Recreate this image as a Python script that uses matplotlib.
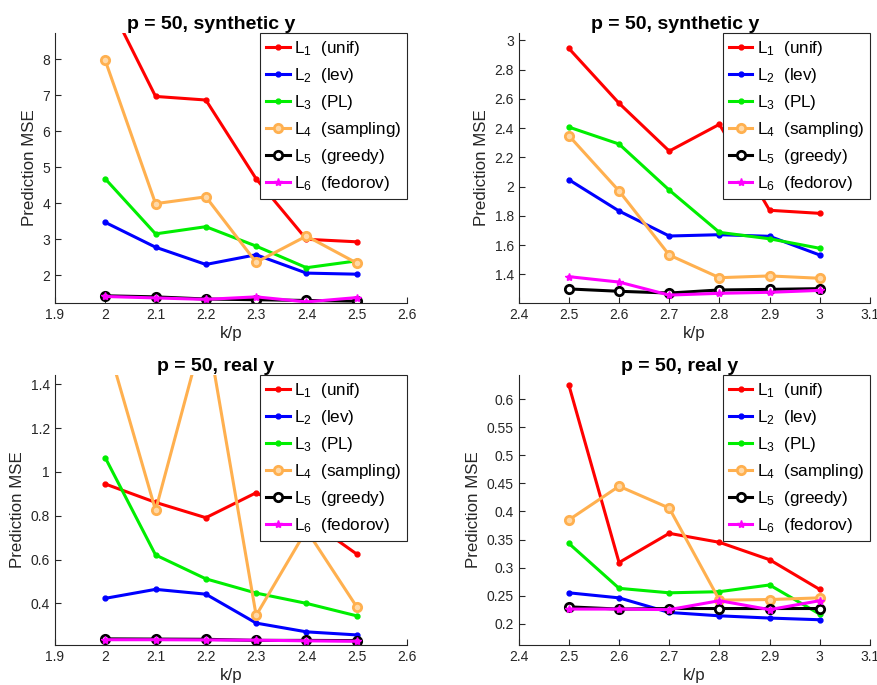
import matplotlib
matplotlib.use("Agg")
import matplotlib.pyplot as plt
import numpy as np

plt.rcParams['font.family'] = ['Liberation Sans', 'DejaVu Sans']
plt.rcParams['mathtext.fontset'] = 'custom'
plt.rcParams['mathtext.rm'] = 'Liberation Sans'
plt.rcParams['mathtext.it'] = 'Liberation Sans'

# ---- data ----
x_low = [2.0, 2.1, 2.2, 2.3, 2.4, 2.5]
x_high = [2.5, 2.6, 2.7, 2.8, 2.9, 3.0]

labels = [r'L$_1$  (unif)', r'L$_2$  (lev)', r'L$_3$  (PL)',
          r'L$_4$  (sampling)', r'L$_5$  (greedy)', r'L$_6$  (fedorov)']

# top-left: p=50 synthetic y, k/p 2..2.5
syn_low_unif = [9.76, 6.97, 6.87, 4.68, 3.00, 2.93]
syn_low_lev = [3.47, 2.78, 2.30, 2.57, 2.06, 2.03]
syn_low_pl = [4.68, 3.15, 3.35, 2.81, 2.21, 2.40]
syn_low_samp = [7.97, 3.99, 4.18, 2.36, 3.09, 2.34]
syn_low_greedy = [1.43, 1.40, 1.34, 1.32, 1.30, 1.28]
syn_low_fed = [1.41, 1.37, 1.33, 1.40, 1.26, 1.38]

# top-right: p=50 synthetic y, k/p 2.5..3
syn_high_unif = [2.945, 2.570, 2.243, 2.426, 1.838, 1.817]
syn_high_lev = [2.047, 1.833, 1.662, 1.671, 1.660, 1.532]
syn_high_pl = [2.407, 2.291, 1.976, 1.687, 1.643, 1.578]
syn_high_samp = [2.348, 1.970, 1.532, 1.377, 1.389, 1.373]
syn_high_greedy = [1.300, 1.284, 1.272, 1.293, 1.297, 1.302]
syn_high_fed = [1.384, 1.347, 1.258, 1.270, 1.277, 1.290]

# bottom-left: p=50 real y, k/p 2..2.5
real_low_unif = [0.945, 0.861, 0.791, 0.905, 0.788, 0.625]
real_low_lev = [0.423, 0.464, 0.442, 0.310, 0.270, 0.256]
real_low_pl = [1.065, 0.621, 0.512, 0.447, 0.400, 0.343]
real_low_samp = [1.62, 0.825, 1.68, 0.345, 0.735, 0.384]
real_low_greedy = [0.238, 0.237, 0.236, 0.231, 0.231, 0.230]
real_low_fed = [0.234, 0.234, 0.233, 0.232, 0.229, 0.227]

# bottom-right: p=50 real y, k/p 2.5..3
real_high_unif = [0.625, 0.309, 0.361, 0.345, 0.314, 0.261]
real_high_lev = [0.255, 0.246, 0.220, 0.214, 0.210, 0.207]
real_high_pl = [0.343, 0.263, 0.255, 0.257, 0.269, 0.217]
real_high_samp = [0.385, 0.445, 0.406, 0.242, 0.243, 0.246]
real_high_greedy = [0.230, 0.226, 0.227, 0.227, 0.227, 0.227]
real_high_fed = [0.226, 0.226, 0.225, 0.241, 0.225, 0.241]

titles = ['p = 50, synthetic y', 'p = 50, synthetic y',
          'p = 50, real y', 'p = 50, real y']
title_x = [0.445, 0.445, 0.457, 0.458]

colors = ['#ff0000', '#0000ff', '#00ee00', '#ffb04f', '#000000', '#ff00ff']
styles = [dict(marker='.', ms=7, mfc=None),
          dict(marker='.', ms=7, mfc=None),
          dict(marker='.', ms=7, mfc=None),
          dict(marker='o', ms=6, mfc='#ffd9a8', mew=2),
          dict(marker='o', ms=6, mfc='white', mew=2),
          dict(marker='*', ms=6, mfc=None)]

panels = [
    (x_low, [syn_low_unif, syn_low_lev, syn_low_pl, syn_low_samp, syn_low_greedy, syn_low_fed],
     (1.9, 2.6), (1.23, 8.73), np.arange(2, 8.01, 1)),
    (x_high, [syn_high_unif, syn_high_lev, syn_high_pl, syn_high_samp, syn_high_greedy, syn_high_fed],
     (2.4, 3.1), (1.204, 3.05), np.arange(1.4, 3.001, 0.2)),
    (x_low, [real_low_unif, real_low_lev, real_low_pl, real_low_samp, real_low_greedy, real_low_fed],
     (1.9, 2.6), (0.21, 1.442), np.arange(0.4, 1.401, 0.2)),
    (x_high, [real_high_unif, real_high_lev, real_high_pl, real_high_samp, real_high_greedy, real_high_fed],
     (2.4, 3.1), (0.162, 0.643), np.arange(0.2, 0.601, 0.05)),
]

positions = [
    [0.0626, 0.5577, 0.401, 0.394],
    [0.5908, 0.5577, 0.400, 0.394],
    [0.0626, 0.0584, 0.401, 0.394],
    [0.5908, 0.0584, 0.400, 0.394],
]

def fmt(v):
    s = ('%.2f' % v).rstrip('0').rstrip('.')
    return s

fig = plt.figure(figsize=(8.78, 6.85), dpi=100)
tick_color = '#262626'
for i, (xs, series, xl, yl, yt) in enumerate(panels):
    ax = fig.add_axes(positions[i])
    for s, c, st, lab in zip(series, colors, styles, labels):
        kw = dict(color=c, lw=2.2, marker=st['marker'], ms=st['ms'], label=lab)
        if st.get('mfc'):
            kw['mfc'] = st['mfc']
        if 'mew' in st:
            kw['mew'] = st['mew']
        ax.plot(xs, s, **kw)
    ax.set_xlim(*xl)
    ax.set_ylim(*yl)
    xt = np.round(np.arange(xl[0], xl[1] + 0.001, 0.1), 2)
    ax.set_xticks(xt)
    ax.set_xticklabels([fmt(v) for v in xt])
    ax.set_yticks(yt)
    ax.set_yticklabels([fmt(v) for v in yt])
    for sp in ['top', 'right']:
        ax.spines[sp].set_visible(False)
    for sp in ['left', 'bottom']:
        ax.spines[sp].set_color(tick_color)
        ax.spines[sp].set_linewidth(0.8)
    ax.tick_params(direction='in', length=4, width=0.8, colors=tick_color,
                   labelsize=10, labelcolor=tick_color)
    ax.set_xlabel('k/p', fontsize=12.2, color=tick_color, labelpad=3)
    ax.set_ylabel('Prediction MSE', fontsize=12.2, color=tick_color, labelpad=4)
    ax.set_title(titles[i], fontsize=14, fontweight='bold', pad=2.5,
                 x=title_x[i])
    leg = ax.legend(loc='upper right', bbox_to_anchor=(1.0, 1.0), fontsize=12.3,
                    frameon=True, fancybox=False, handlelength=1.35,
                    handletextpad=0.25, labelspacing=0.47, borderpad=0.35,
                    borderaxespad=0.0, markerscale=1.0)
    leg.get_frame().set_edgecolor('#262626')
    leg.get_frame().set_linewidth(0.8)
    leg.get_frame().set_alpha(1)

fig.savefig('out.png', dpi=100)
